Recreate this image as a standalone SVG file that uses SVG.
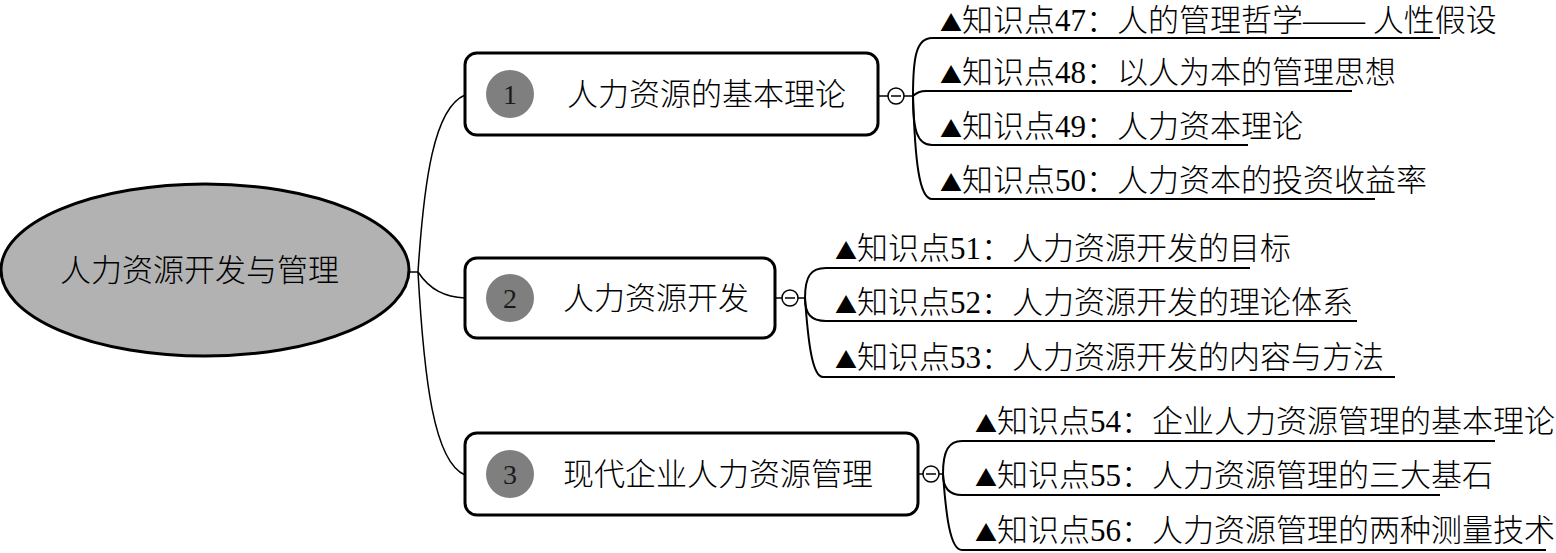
<svg xmlns="http://www.w3.org/2000/svg" width="1556" height="553" viewBox="0 0 1556 553">
<style>
  .t { font-family: "Noto Sans CJK SC", "Liberation Serif", sans-serif; font-size: 31px; font-weight: 300; fill: #000; }
  .d { font-family: "Liberation Serif", serif; font-weight: 400; }
  .tri { font-family: "Noto Sans CJK SC", "DejaVu Sans", sans-serif; font-size: 22px; font-weight: 400; }
  .num { font-family: "Liberation Serif", serif; font-size: 28px; fill: #1a1a1a; text-anchor: middle; }
  .box { fill: #fff; stroke: #000; stroke-width: 3; }
  .badge { fill: #7f7f7f; }
  .con { fill: none; stroke: #000; stroke-width: 1.5; }
  .ul { fill: none; stroke: #000; stroke-width: 2; }
  .tog { fill: #fff; stroke: #000; stroke-width: 1.5; }
</style>

<g id="connectors">
  <path class="con" d="M410 272 H418"/>
  <path class="con" d="M418 272 C424 180 434 108 465 95"/>
  <path class="con" d="M418 272 C430 290 445 297 465 298"/>
  <path class="con" d="M418 272 C424 380 434 462 465 475"/>

  <path class="con" d="M878 96 H888 M904 96 H913"/>
  <path class="ul" d="M913 96 C913 58 916 38 932 38 H1440"/>
  <path class="ul" d="M913 96 C917 92 920 91 926 91 H1352"/>
  <path class="ul" d="M913 96 C913 130 917 145 932 145 H1248"/>
  <path class="ul" d="M913 96 C915 160 919 199 932 199 H1375"/>

  <path class="con" d="M775 298 H782 M798 298 H805"/>
  <path class="ul" d="M805 298 C805 276 811 268 826 268 H1250"/>
  <path class="ul" d="M805 298 C805 314 811 321 826 321 H1357"/>
  <path class="ul" d="M805 298 C808 340 812 377 823 377 H1395"/>

  <path class="con" d="M918 474 H923 M939 474 H943"/>
  <path class="ul" d="M943 474 C943 450 949 441 962 441 H1495"/>
  <path class="ul" d="M943 474 C943 488 949 495 962 495 H1440"/>
  <path class="ul" d="M943 474 C946 515 950 550 962 550 H1546"/>
</g>

<g id="toggles">
  <circle class="tog" cx="896" cy="96" r="8"/>
  <path class="con" d="M891 96 H901"/>
  <circle class="tog" cx="790" cy="298" r="8"/>
  <path class="con" d="M785 298 H795"/>
  <circle class="tog" cx="931" cy="474" r="8"/>
  <path class="con" d="M926 474 H936"/>
</g>

<g id="root">
  <ellipse cx="205" cy="270" rx="204" ry="86" fill="#b2b2b2" stroke="#000" stroke-width="3"/>
  <text class="t" x="60" y="281">人力资源开发与管理</text>
</g>

<g id="node1">
  <rect class="box" x="465" y="53" width="413" height="82" rx="12"/>
  <circle class="badge" cx="510" cy="94" r="24"/>
  <text class="num" x="510" y="104">1</text>
  <text class="t" x="567" y="105">人力资源的基本理论</text>
</g>

<g id="node2">
  <rect class="box" x="465" y="258" width="310" height="80" rx="12"/>
  <circle class="badge" cx="510" cy="298" r="24"/>
  <text class="num" x="510" y="308">2</text>
  <text class="t" x="563" y="309">人力资源开发</text>
</g>

<g id="node3">
  <rect class="box" x="465" y="433" width="453" height="82" rx="12"/>
  <circle class="badge" cx="510" cy="474" r="24"/>
  <text class="num" x="510" y="484">3</text>
  <text class="t" x="563" y="485">现代企业人力资源管理</text>
</g>

<g id="k47"><text class="t" x="940" y="31"><tspan class="tri">▲</tspan>知识点<tspan class="d">47</tspan>：人的管理哲学<tspan class="d">—— </tspan>人性假设</text></g>
<g id="k48"><text class="t" x="940" y="83"><tspan class="tri">▲</tspan>知识点<tspan class="d">48</tspan>：以人为本的管理思想</text></g>
<g id="k49"><text class="t" x="940" y="137"><tspan class="tri">▲</tspan>知识点<tspan class="d">49</tspan>：人力资本理论</text></g>
<g id="k50"><text class="t" x="940" y="191"><tspan class="tri">▲</tspan>知识点<tspan class="d">50</tspan>：人力资本的投资收益率</text></g>

<g id="k51"><text class="t" x="835" y="259"><tspan class="tri">▲</tspan>知识点<tspan class="d">51</tspan>：人力资源开发的目标</text></g>
<g id="k52"><text class="t" x="835" y="313"><tspan class="tri">▲</tspan>知识点<tspan class="d">52</tspan>：人力资源开发的理论体系</text></g>
<g id="k53"><text class="t" x="835" y="368"><tspan class="tri">▲</tspan>知识点<tspan class="d">53</tspan>：人力资源开发的内容与方法</text></g>

<g id="k54"><text class="t" x="975" y="432"><tspan class="tri">▲</tspan>知识点<tspan class="d">54</tspan>：企业人力资源管理的基本理论</text></g>
<g id="k55"><text class="t" x="975" y="486"><tspan class="tri">▲</tspan>知识点<tspan class="d">55</tspan>：人力资源管理的三大基石</text></g>
<g id="k56"><text class="t" x="975" y="541"><tspan class="tri">▲</tspan>知识点<tspan class="d">56</tspan>：人力资源管理的两种测量技术</text></g>
</svg>
